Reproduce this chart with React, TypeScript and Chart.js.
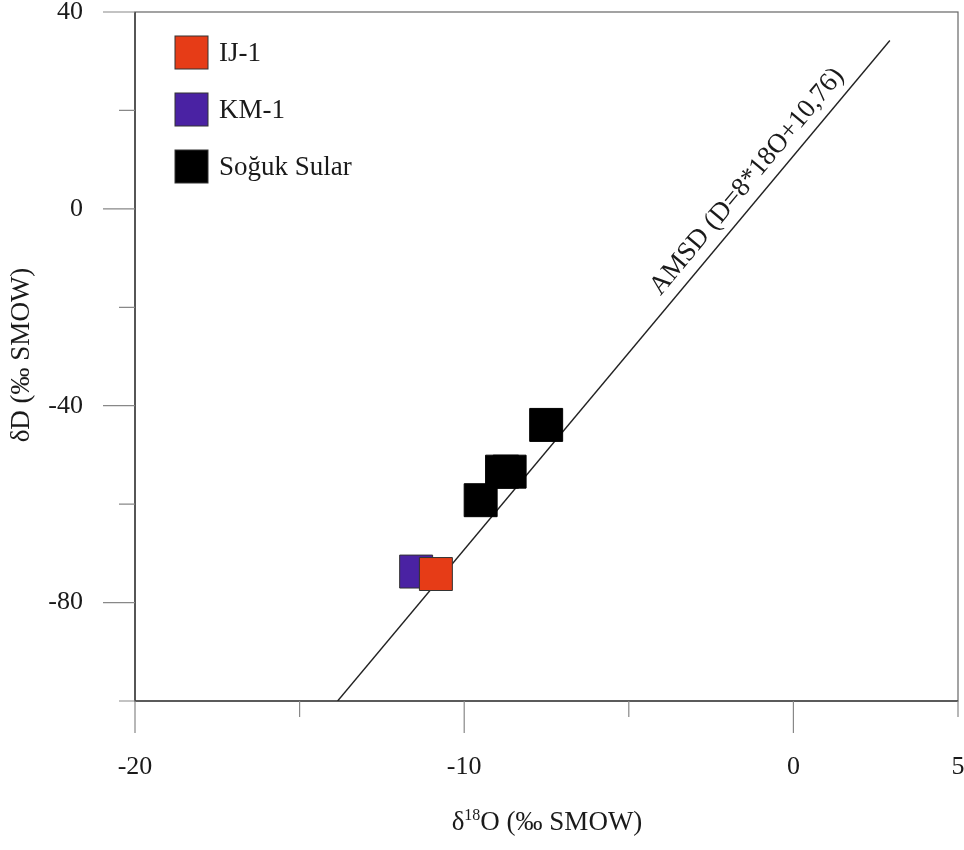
import React, { useEffect, useRef } from 'react';
import { Chart, registerables } from 'chart.js';

Chart.register(...registerables);

// ---- data ----
const seriesNames = ['IJ-1', 'KM-1', 'Soğuk Sular'];
const seriesColors = ['#E63C17', '#4A22A3', '#000000'];
const ij1X = [-10.86];
const ij1Y = [-74.2];
const km1X = [-11.46];
const km1Y = [-73.7];
const sogukX = [-7.51, -8.62, -8.85, -9.5];
const sogukY = [-43.9, -53.4, -53.4, -59.2];
const amsdX = [-13.845, 2.93];
const amsdY = [-100, 34.2];
const amsdLabel = 'AMSD (D=8*18O+10,76)';

const xMin = -20;
const xMax = 5;
const yMin = -100;
const yMax = 40;
const xTicks = [-20, -15, -10, -5, 0, 5];
const xMajorTicks = [-20, -10, 0];
const xLabeledTicks = [-20, -10, 0, 5];
const yTicks = [40, 20, 0, -20, -40, -60, -80, -100];
const yMajorTicks = [40, 0, -40, -80];
const yLabeledTicks = [40, 0, -40, -80];
const xTitleParts = ['δ', '18', 'O (‰ SMOW)'];
const yTitle = 'δD (‰ SMOW)';

const FONT = '"Liberation Serif", "Times New Roman", serif';

const decorPlugin = {
  id: 'decor',
  beforeDatasetsDraw(chart: any) {
    const { ctx, chartArea: a, scales } = chart;
    const xs = scales.x;
    const ys = scales.y;
    ctx.save();
    // frame
    ctx.strokeStyle = '#666';
    ctx.lineWidth = 1.2;
    ctx.strokeRect(a.left, a.top, a.right - a.left, a.bottom - a.top);
    // axis lines darker
    ctx.strokeStyle = '#444';
    ctx.lineWidth = 1.6;
    ctx.beginPath();
    ctx.moveTo(a.left, a.top);
    ctx.lineTo(a.left, a.bottom);
    ctx.lineTo(a.right, a.bottom);
    ctx.stroke();
    // ticks
    ctx.strokeStyle = '#888';
    ctx.lineWidth = 1.2;
    ctx.beginPath();
    xTicks.forEach((v) => {
      const px = xs.getPixelForValue(v);
      const len = xMajorTicks.includes(v) ? 32 : 16;
      ctx.moveTo(px, a.bottom);
      ctx.lineTo(px, a.bottom + len);
    });
    yTicks.forEach((v) => {
      const py = ys.getPixelForValue(v);
      const len = yMajorTicks.includes(v) ? 32 : 16;
      ctx.moveTo(a.left, py);
      ctx.lineTo(a.left - len, py);
    });
    ctx.stroke();
    // tick labels
    ctx.fillStyle = '#1a1a1a';
    ctx.font = `26px ${FONT}`;
    ctx.textAlign = 'center';
    ctx.textBaseline = 'middle';
    xLabeledTicks.forEach((v) => {
      ctx.fillText(String(v), xs.getPixelForValue(v), a.bottom + 66);
    });
    ctx.textAlign = 'right';
    yLabeledTicks.forEach((v) => {
      ctx.fillText(String(v), a.left - 52, ys.getPixelForValue(v));
    });
    ctx.restore();
  },
  afterDraw(chart: any) {
    const { ctx, scales } = chart;
    const xs = scales.x;
    const ys = scales.y;
    ctx.save();
    ctx.fillStyle = '#1a1a1a';
    // legend
    const legendTops = [36, 93, 150];
    seriesNames.forEach((name, i) => {
      const top = legendTops[i];
      ctx.fillStyle = seriesColors[i];
      ctx.fillRect(175, top, 33, 33);
      ctx.strokeStyle = '#333';
      ctx.lineWidth = 1;
      ctx.strokeRect(175, top, 33, 33);
      ctx.fillStyle = '#1a1a1a';
      ctx.font = `27px ${FONT}`;
      ctx.textAlign = 'left';
      ctx.textBaseline = 'middle';
      ctx.fillText(name, 219, top + 18);
    });
    // line label
    const p0x = xs.getPixelForValue(amsdX[0]);
    const p0y = ys.getPixelForValue(amsdY[0]);
    const p1x = xs.getPixelForValue(amsdX[1]);
    const p1y = ys.getPixelForValue(amsdY[1]);
    const dx = p1x - p0x;
    const dy = p1y - p0y;
    const L = Math.hypot(dx, dy);
    const ux = dx / L;
    const uy = dy / L;
    const t = 0.768;
    const nx = uy; // upper-left normal
    const ny = -ux;
    const off = 19;
    const cx = p0x + dx * t + nx * off;
    const cy = p0y + dy * t + ny * off;
    ctx.translate(cx, cy);
    ctx.rotate(Math.atan2(dy, dx));
    ctx.font = `27px ${FONT}`;
    ctx.textAlign = 'center';
    ctx.textBaseline = 'middle';
    ctx.fillStyle = '#1a1a1a';
    ctx.fillText(amsdLabel, 0, 0);
    ctx.setTransform(1, 0, 0, 1, 0, 0);
    // y title
    ctx.save();
    ctx.translate(22, 355);
    ctx.rotate(-Math.PI / 2);
    ctx.font = `27px ${FONT}`;
    ctx.textAlign = 'center';
    ctx.textBaseline = 'middle';
    ctx.fillText(yTitle, 0, 0);
    ctx.restore();
    // x title with superscript
    const big = `27px ${FONT}`;
    const small = `16px ${FONT}`;
    ctx.font = big;
    const w0 = ctx.measureText(xTitleParts[0]).width;
    const w2 = ctx.measureText(xTitleParts[2]).width;
    ctx.font = small;
    const w1 = ctx.measureText(xTitleParts[1]).width;
    const total = w0 + w1 + w2;
    let x = 547 - total / 2;
    const base = 830;
    ctx.textAlign = 'left';
    ctx.textBaseline = 'alphabetic';
    ctx.font = big;
    ctx.fillText(xTitleParts[0], x, base);
    x += w0;
    ctx.font = small;
    ctx.fillText(xTitleParts[1], x, base - 10);
    x += w1;
    ctx.font = big;
    ctx.fillText(xTitleParts[2], x, base);
    ctx.restore();
  },
};

export default function App() {
  const ref = useRef<HTMLCanvasElement>(null);
  useEffect(() => {
    if (!ref.current) return;
    const mk = (xsArr: number[], ysArr: number[]) => xsArr.map((v, i) => ({ x: v, y: ysArr[i] }));
    const chart = new Chart(ref.current, {
      type: 'scatter',
      data: {
        datasets: [
          {
            label: seriesNames[0],
            data: mk(ij1X, ij1Y),
            pointStyle: 'rect',
            pointRadius: 23.3,
            backgroundColor: seriesColors[0],
            borderColor: '#333',
            borderWidth: 1,
          },
          {
            label: seriesNames[1],
            data: mk(km1X, km1Y),
            pointStyle: 'rect',
            pointRadius: 23.3,
            backgroundColor: seriesColors[1],
            borderColor: '#333',
            borderWidth: 1,
          },
          {
            label: seriesNames[2],
            data: mk(sogukX, sogukY),
            pointStyle: 'rect',
            pointRadius: 23.3,
            backgroundColor: seriesColors[2],
            borderColor: '#000',
            borderWidth: 1,
          },
          {
            label: 'AMSD',
            data: mk(amsdX, amsdY),
            showLine: true,
            pointRadius: 0,
            borderColor: '#222',
            borderWidth: 1.4,
            fill: false,
          } as any,
        ],
      },
      options: {
        animation: false,
        responsive: false,
        devicePixelRatio: 1,
        layout: { autoPadding: false, padding: { top: 12, right: 6, left: 0, bottom: 0 } },
        plugins: {
          legend: { display: false },
          tooltip: { enabled: false },
        },
        scales: {
          x: {
            type: 'linear',
            min: xMin,
            max: xMax,
            afterBuildTicks: (s: any) => {
              s.ticks = xTicks.map((v) => ({ value: v }));
            },
            afterFit: (s: any) => {
              s.height = 149;
            },
            grid: { display: false },
            border: { display: false },
            ticks: { display: false },
          },
          y: {
            type: 'linear',
            min: yMin,
            max: yMax,
            afterBuildTicks: (s: any) => {
              s.ticks = yTicks.map((v) => ({ value: v }));
            },
            afterFit: (s: any) => {
              s.width = 135;
            },
            grid: { display: false },
            border: { display: false },
            ticks: { display: false },
          },
        },
      } as any,
      plugins: [decorPlugin],
    });
    return () => chart.destroy();
  }, []);
  return (
    <div style={{ position: 'fixed', left: 0, top: 0, width: 964, height: 850, background: '#fff' }}>
      <canvas ref={ref} width={964} height={850} />
    </div>
  );
}
